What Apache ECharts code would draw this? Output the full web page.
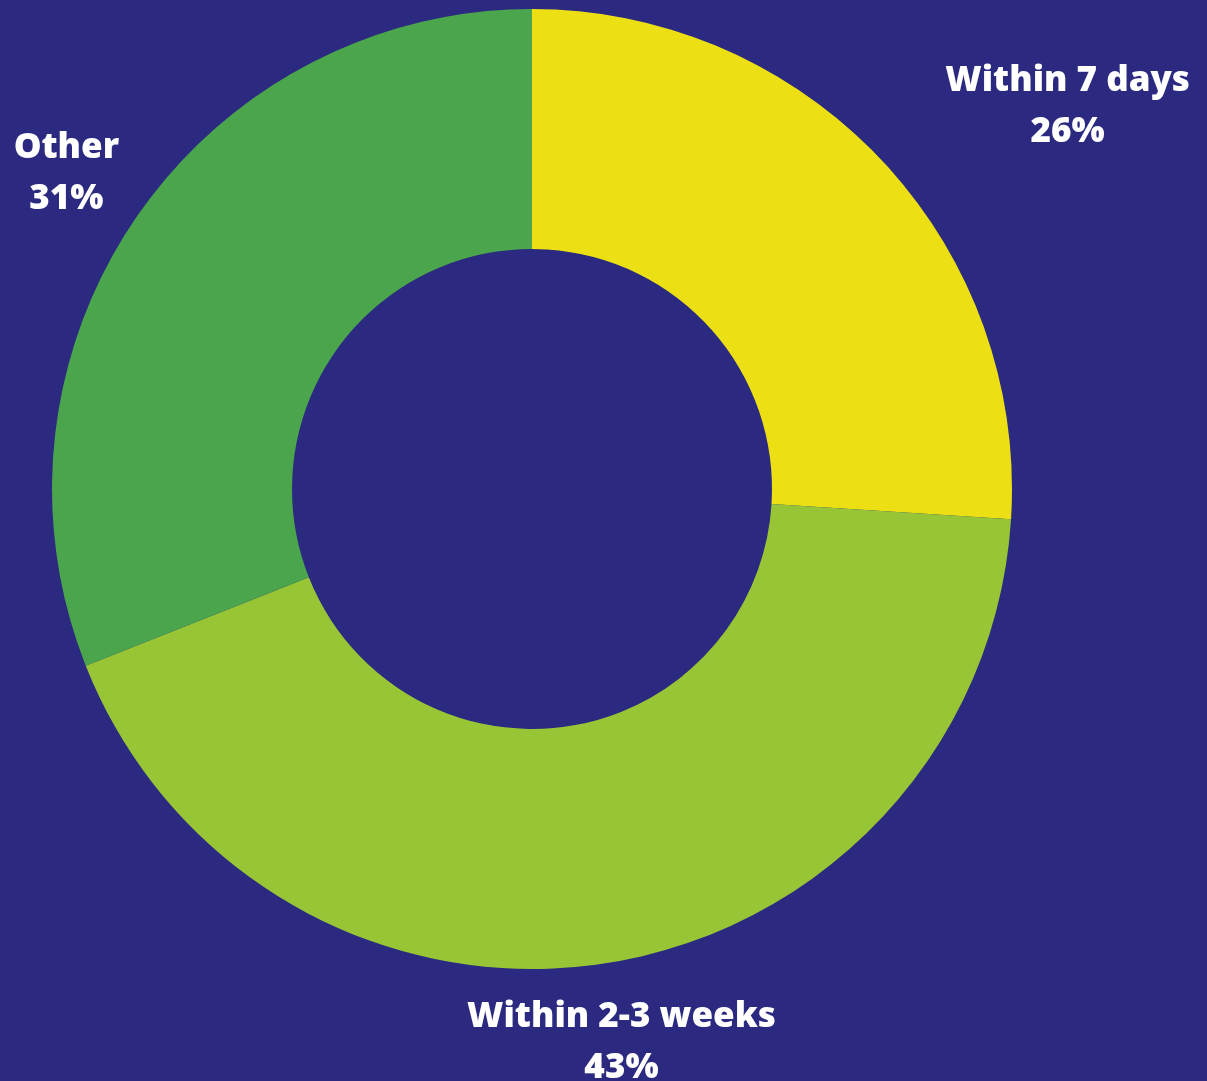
<!DOCTYPE html>
<html>
<head>
<meta charset="utf-8">
<script src="https://cdn.jsdelivr.net/npm/echarts@6/dist/echarts.min.js"></script>
<style>
  html, body { margin: 0; padding: 0; background: #2b2a80; }
  #chart { width: 1207px; height: 1081px; }
</style>
</head>
<body>
<div id="chart"></div>
<script>
const categories = ['Within 7 days', 'Within 2-3 weeks', 'Other'];
const shares = [26, 43, 31];
const colors = ['#ece015', '#97c535', '#4ba54c'];
// nudges for each label after the outside placement
const labelShift = [[137, -13], [0, 20], [-14, -12]];

let chart = echarts.init(document.getElementById('chart'));
let data = [];
for (let i = 0; i < categories.length; i++) {
    data.push({ name: categories[i], value: shares[i], itemStyle: { color: colors[i] } });
}
chart.setOption({
    backgroundColor: '#2b2a80',
    animation: false,
    series: [{
        type: 'pie',
        center: [532, 489],
        radius: [240, 480],
        startAngle: 90,
        clockwise: true,
        avoidLabelOverlap: false,
        data: data,
        label: {
            show: true,
            position: 'outside',
            formatter: '{b}\n{c}%',
            color: '#ffffff',
            fontFamily: 'Open Sans',
            fontWeight: 800,
            fontSize: 35,
            lineHeight: 51,
            align: 'center'
        },
        labelLine: { show: false, length: 60, length2: 0 },
        labelLayout: function (params) {
            let s = labelShift[params.dataIndex];
            return { align: 'center', verticalAlign: 'middle', dx: s[0], dy: s[1] };
        }
    }]
});
</script>
</body>
</html>
